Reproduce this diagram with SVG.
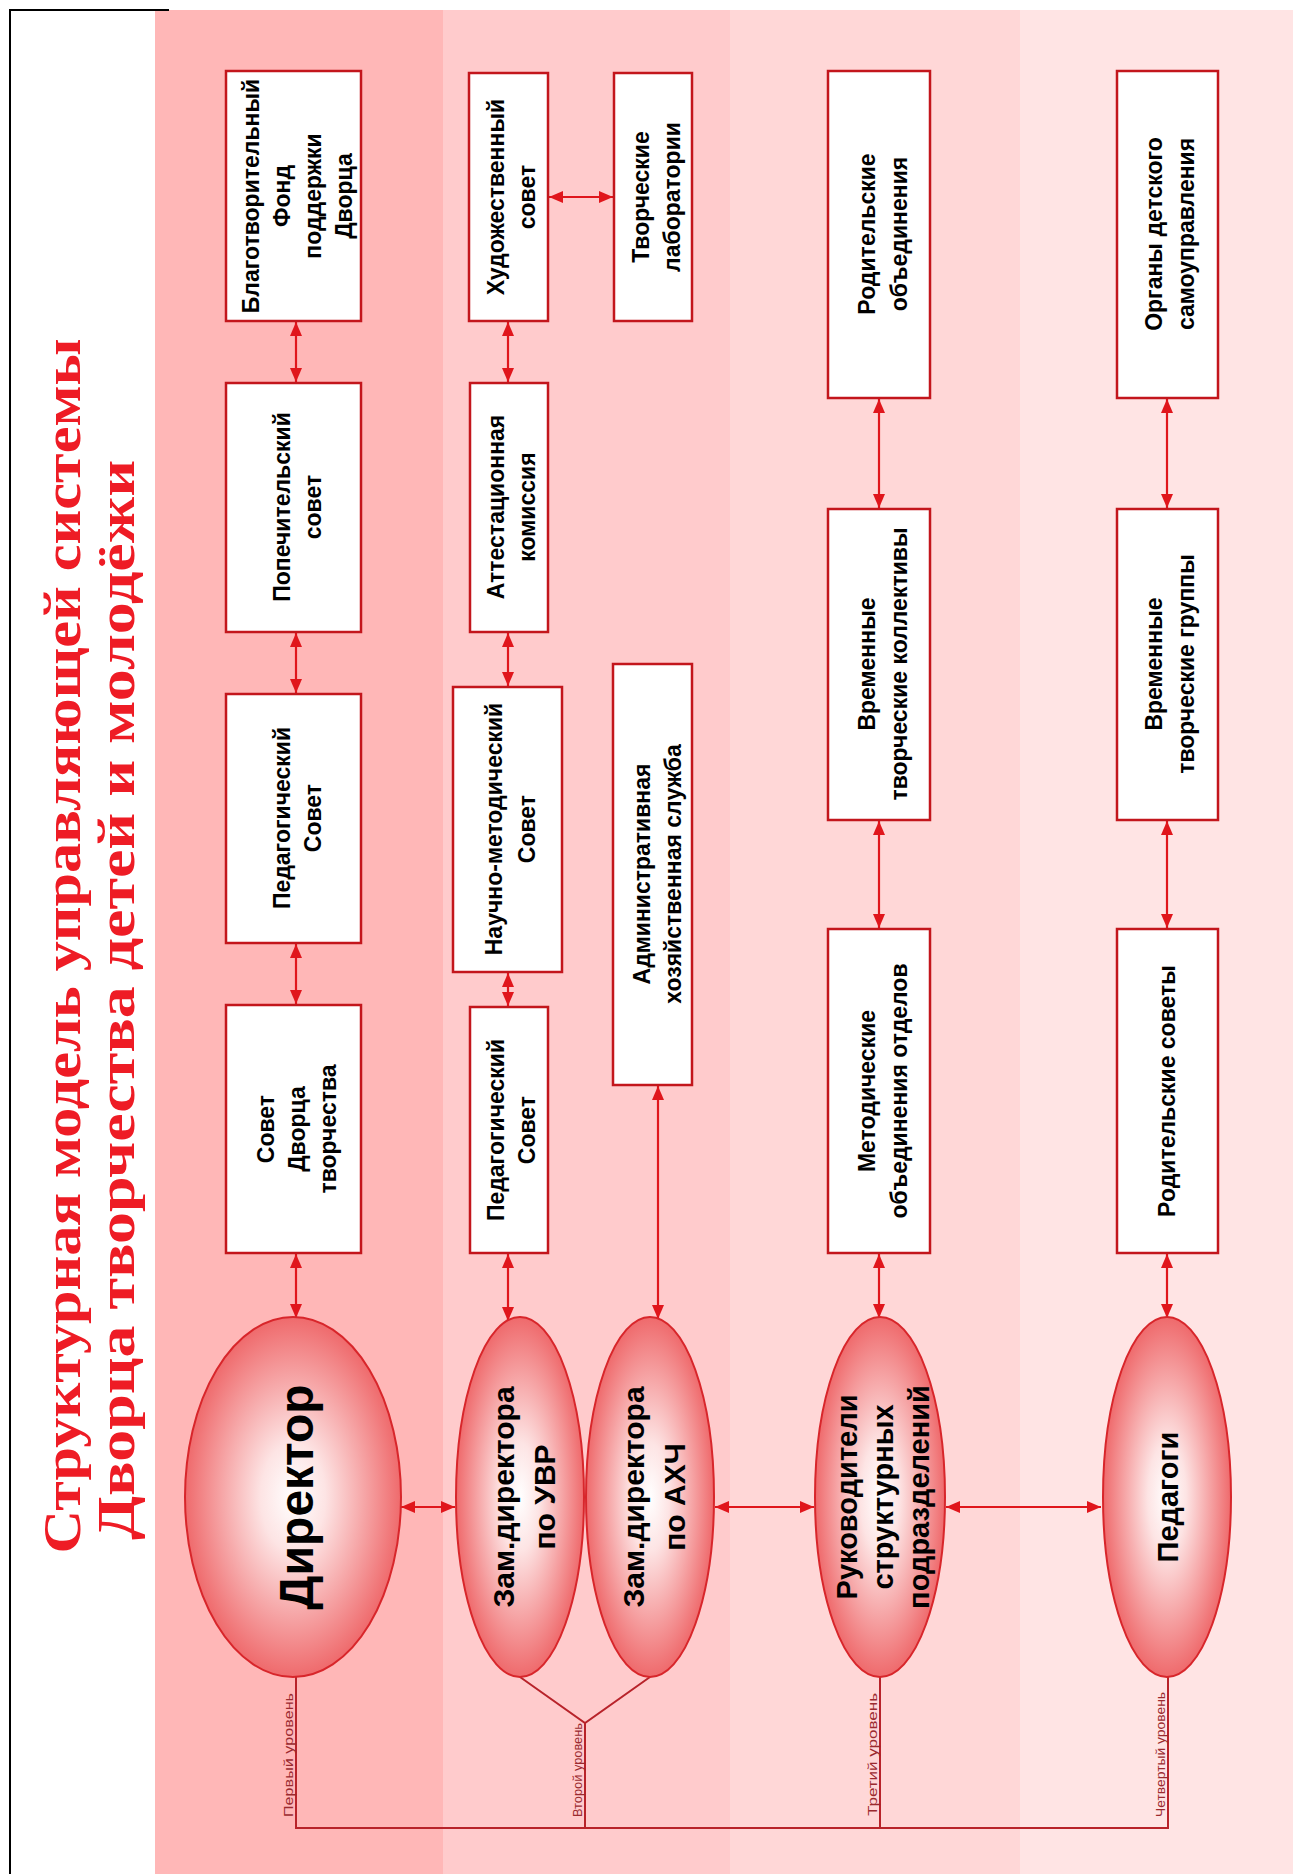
<svg xmlns="http://www.w3.org/2000/svg" width="1293" height="1874" viewBox="0 0 1293 1874">
<defs>
<radialGradient id="eg" cx="50%" cy="50%" r="50%">
<stop offset="0" stop-color="#ffffff"/>
<stop offset="0.3" stop-color="#fde4e4"/>
<stop offset="1" stop-color="#ef6a6c"/>
</radialGradient>
<marker id="ah" markerUnits="userSpaceOnUse" markerWidth="14" markerHeight="12" refX="14" refY="6" orient="auto-start-reverse">
<path d="M0,0 L14,6 L0,12 z" fill="#e0161c"/>
</marker>
<style>
.box{fill:#ffffff;stroke:#c3161c;stroke-width:2.5}
.ell{fill:url(#eg);stroke:#d8262b;stroke-width:2}
.bt{font-family:"Liberation Sans",Arial,sans-serif;font-weight:bold;font-size:23px;fill:#000;text-anchor:middle}
.et{font-family:"Liberation Sans",Arial,sans-serif;font-weight:bold;fill:#000;text-anchor:middle}
.ar{stroke:#e0161c;stroke-width:2.2;fill:none;marker-start:url(#ah);marker-end:url(#ah)}
.lv{stroke:#b8232a;stroke-width:2;fill:none}
.lt{font-family:"Liberation Sans",Arial,sans-serif;font-size:13px;fill:#9b2a2f}
.tt{font-family:"Liberation Serif","Times New Roman",serif;font-weight:bold;font-size:52px;fill:#ee1c25;text-anchor:middle}
</style>
</defs>

<g id="background">
<rect x="0" y="0" width="1293" height="1874" fill="#ffffff"/>
<rect x="155" y="10" width="288" height="1864" fill="#ffb7b7"/>
<rect x="443" y="10" width="287" height="1864" fill="#ffcbcc"/>
<rect x="730" y="10" width="290" height="1864" fill="#ffd7d7"/>
<rect x="1020" y="10" width="273" height="1864" fill="#ffe4e4"/>
<path d="M10,1874 L10,10 L169,10" stroke="#000" stroke-width="2" fill="none"/>
</g>

<g id="title">
<text class="tt" transform="translate(80,946) rotate(-90)" textLength="1215" lengthAdjust="spacingAndGlyphs">Структурная модель управляющей системы</text>
<text class="tt" transform="translate(134,1000) rotate(-90)" textLength="1080" lengthAdjust="spacingAndGlyphs">Дворца творчества детей и молодёжи</text>
</g>

<g id="connectors">
<line class="ar" x1="296" y1="322" x2="296" y2="382"/>
<line class="ar" x1="296" y1="633" x2="296" y2="693"/>
<line class="ar" x1="296" y1="944" x2="296" y2="1004"/>
<line class="ar" x1="296" y1="1254" x2="296" y2="1318"/>
<line class="ar" x1="508" y1="322" x2="508" y2="382"/>
<line class="ar" x1="508" y1="633" x2="508" y2="686"/>
<line class="ar" x1="508" y1="973" x2="508" y2="1006"/>
<line class="ar" x1="508" y1="1254" x2="508" y2="1321"/>
<line class="ar" x1="658" y1="1086" x2="658" y2="1319"/>
<line class="ar" x1="549" y1="197" x2="613" y2="197"/>
<line class="ar" x1="879" y1="399" x2="879" y2="508"/>
<line class="ar" x1="879" y1="821" x2="879" y2="928"/>
<line class="ar" x1="879" y1="1254" x2="879" y2="1318"/>
<line class="ar" x1="1167" y1="399" x2="1167" y2="508"/>
<line class="ar" x1="1167" y1="821" x2="1167" y2="928"/>
<line class="ar" x1="1167" y1="1254" x2="1167" y2="1318"/>
<line class="ar" x1="401" y1="1507" x2="455" y2="1507"/>
<line class="ar" x1="715" y1="1507" x2="814" y2="1507"/>
<line class="ar" x1="946" y1="1507" x2="1101" y2="1507"/>
<path class="lv" d="M296,1677 L296,1828 L1168,1828 L1168,1677"/>
<path class="lv" d="M520,1677 L585,1723 L650,1677 M585,1723 L585,1828"/>
<path class="lv" d="M880,1677 L880,1828"/>
<text class="lt" transform="translate(293,1817) rotate(-90)" textLength="124" lengthAdjust="spacingAndGlyphs">Первый уровень</text>
<text class="lt" transform="translate(582,1817) rotate(-90)" textLength="94" lengthAdjust="spacingAndGlyphs">Второй уровень</text>
<text class="lt" transform="translate(877,1816) rotate(-90)" textLength="123" lengthAdjust="spacingAndGlyphs">Третий уровень</text>
<text class="lt" transform="translate(1165,1817) rotate(-90)" textLength="125" lengthAdjust="spacingAndGlyphs">Четвертый уровень</text>
</g>

<g id="n-blago">
<rect class="box" x="226" y="71" width="135" height="250"/>
<text class="bt" transform="translate(297,196) rotate(-90)"><tspan x="0" y="-38">Благотворительный</tspan><tspan x="0" y="-7">Фонд</tspan><tspan x="0" y="24">поддержки</tspan><tspan x="0" y="55">Дворца</tspan></text>
</g>
<g id="n-popech">
<rect class="box" x="226" y="383" width="135" height="249"/>
<text class="bt" transform="translate(297,507) rotate(-90)"><tspan x="0" y="-7">Попечительский</tspan><tspan x="0" y="24">совет</tspan></text>
</g>
<g id="n-pedsovet1">
<rect class="box" x="226" y="694" width="135" height="249"/>
<text class="bt" transform="translate(297,818) rotate(-90)"><tspan x="0" y="-7">Педагогический</tspan><tspan x="0" y="24">Совет</tspan></text>
</g>
<g id="n-sovet">
<rect class="box" x="226" y="1005" width="135" height="248"/>
<text class="bt" transform="translate(297,1129) rotate(-90)"><tspan x="0" y="-23">Совет</tspan><tspan x="0" y="8">Дворца</tspan><tspan x="0" y="39">творчества</tspan></text>
</g>

<g id="n-hud">
<rect class="box" x="469" y="73" width="79" height="248"/>
<text class="bt" transform="translate(511,197) rotate(-90)"><tspan x="0" y="-7">Художественный</tspan><tspan x="0" y="24">совет</tspan></text>
</g>
<g id="n-labs">
<rect class="box" x="614" y="73" width="78" height="248"/>
<text class="bt" transform="translate(656,197) rotate(-90)"><tspan x="0" y="-7">Творческие</tspan><tspan x="0" y="24">лаборатории</tspan></text>
</g>
<g id="n-attest">
<rect class="box" x="470" y="383" width="78" height="249"/>
<text class="bt" transform="translate(511,507) rotate(-90)"><tspan x="0" y="-7">Аттестационная</tspan><tspan x="0" y="24">комиссия</tspan></text>
</g>
<g id="n-nauchno">
<rect class="box" x="453" y="687" width="109" height="285"/>
<text class="bt" transform="translate(510,829) rotate(-90)"><tspan x="0" y="-8">Научно-методический</tspan><tspan x="0" y="25">Совет</tspan></text>
</g>
<g id="n-pedsovet2">
<rect class="box" x="470" y="1007" width="78" height="246"/>
<text class="bt" transform="translate(511,1130) rotate(-90)"><tspan x="0" y="-7">Педагогический</tspan><tspan x="0" y="24">Совет</tspan></text>
</g>
<g id="n-admin">
<rect class="box" x="613" y="664" width="79" height="421"/>
<text class="bt" transform="translate(657,874) rotate(-90)"><tspan x="0" y="-7">Административная</tspan><tspan x="0" y="24">хозяйственная служба</tspan></text>
</g>

<g id="n-rodobj">
<rect class="box" x="828" y="71" width="102" height="327"/>
<text class="bt" transform="translate(883,234) rotate(-90)"><tspan x="0" y="-8">Родительские</tspan><tspan x="0" y="24">объединения</tspan></text>
</g>
<g id="n-vtk">
<rect class="box" x="828" y="509" width="102" height="311"/>
<text class="bt" transform="translate(883,664) rotate(-90)"><tspan x="0" y="-8">Временные</tspan><tspan x="0" y="24">творческие коллективы</tspan></text>
</g>
<g id="n-metod">
<rect class="box" x="828" y="929" width="102" height="324"/>
<text class="bt" transform="translate(883,1091) rotate(-90)"><tspan x="0" y="-8">Методические</tspan><tspan x="0" y="24">объединения отделов</tspan></text>
</g>

<g id="n-organy">
<rect class="box" x="1117" y="71" width="101" height="327"/>
<text class="bt" transform="translate(1170,234) rotate(-90)"><tspan x="0" y="-8">Органы детского</tspan><tspan x="0" y="24">самоуправления</tspan></text>
</g>
<g id="n-vtg">
<rect class="box" x="1117" y="509" width="101" height="311"/>
<text class="bt" transform="translate(1170,664) rotate(-90)"><tspan x="0" y="-8">Временные</tspan><tspan x="0" y="24">творческие группы</tspan></text>
</g>
<g id="n-rodsov">
<rect class="box" x="1117" y="929" width="101" height="324"/>
<text class="bt" transform="translate(1167,1091) rotate(-90)"><tspan x="0" y="8">Родительские советы</tspan></text>
</g>

<g id="n-director">
<ellipse class="ell" cx="293" cy="1497" rx="108" ry="180"/>
<text class="et" font-size="48" transform="translate(296,1497) rotate(-90)"><tspan x="0" y="17">Директор</tspan></text>
</g>
<g id="n-uvr">
<ellipse class="ell" cx="520" cy="1497" rx="64" ry="180"/>
<text class="et" font-size="30" transform="translate(524,1497) rotate(-90)"><tspan x="0" y="-10">Зам.директора</tspan><tspan x="0" y="31">по УВР</tspan></text>
</g>
<g id="n-ahch">
<ellipse class="ell" cx="650" cy="1497" rx="64" ry="180"/>
<text class="et" font-size="30" transform="translate(654,1497) rotate(-90)"><tspan x="0" y="-10">Зам.директора</tspan><tspan x="0" y="31">по АХЧ</tspan></text>
</g>
<g id="n-ruk">
<ellipse class="ell" cx="880" cy="1497" rx="65" ry="180"/>
<text class="et" font-size="29" transform="translate(883,1497) rotate(-90)"><tspan x="0" y="-26">Руководители</tspan><tspan x="0" y="10">структурных</tspan><tspan x="0" y="46">подразделений</tspan></text>
</g>
<g id="n-pedagogi">
<ellipse class="ell" cx="1167" cy="1497" rx="64" ry="180"/>
<text class="et" font-size="29" transform="translate(1168,1497) rotate(-90)"><tspan x="0" y="10">Педагоги</tspan></text>
</g>
</svg>
